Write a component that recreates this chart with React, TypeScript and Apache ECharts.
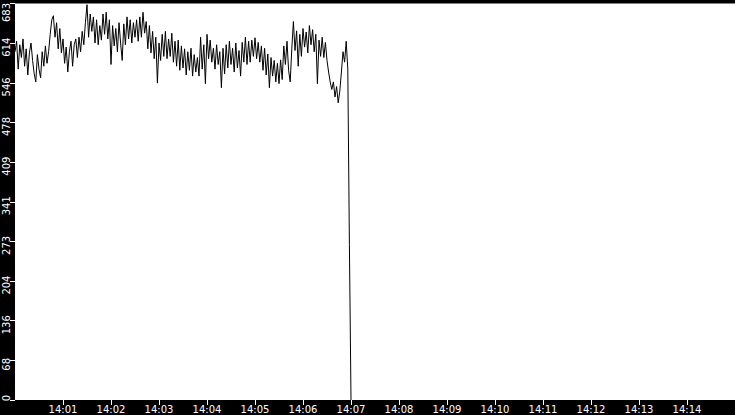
import { useEffect, useRef } from 'react';
import * as echarts from 'echarts';

// tick labels
const xTickLabels = [
  '14:00', '14:01', '14:02', '14:03', '14:04', '14:05', '14:06', '14:07',
  '14:08', '14:09', '14:10', '14:11', '14:12', '14:13', '14:14', '14:15',
];
const yTickLabels = ['0', '68', '136', '204', '273', '341', '409', '478', '546', '614', '683'];

// one reading every 2 s, starting at 14:00:00
const sampleStepSeconds = 2;
const lineValues = [
  // 14:00:00 - 14:00:42
  600, 618, 570, 612, 590, 622, 575, 605, 560, 598, 615, 585, 562, 548, 595, 570, 555, 600, 575, 610, 580, 600,
  // 14:00:44 - 14:01:26
  630, 655, 662, 625, 650, 605, 640, 598, 622, 580, 608, 565, 600, 618, 575, 612, 622, 590, 625, 600, 635, 612,
  // 14:01:28 - 14:02:30
  650, 681, 625, 665, 635, 660, 615, 655, 612, 645, 620, 665, 630, 668, 622, 655, 578, 645, 610, 640, 600, 650,
  615, 585, 648, 612, 660, 622, 655, 615, 650, 625,
  // 14:02:32 - 14:03:44
  655, 618, 660, 625, 668, 632, 652, 605, 645, 598, 635, 588, 625, 546, 615, 585, 630, 592, 635, 588, 622, 592,
  632, 582, 618, 575, 620, 568, 610, 572, 605, 560, 600, 568, 606, 558, 595,
  // 14:03:46 - 14:05:18
  565, 590, 558, 625, 570, 612, 545, 630, 588, 620, 582, 606, 570, 612, 578, 600, 538, 606, 562, 612, 572, 618,
  578, 606, 565, 615, 572, 602, 558, 616, 582, 625, 578, 618, 582, 620, 592, 624, 588, 616, 582, 610, 568, 606,
  560, 596, 538,
  // 14:05:20 - 14:06:56
  590, 558, 585, 548, 580, 545, 586, 552, 610, 578, 618, 568, 548, 605, 652, 602, 636, 575, 630, 592, 640, 608,
  634, 598, 645, 612, 638, 600, 630, 545, 620, 592, 625, 590, 616, 585, 565, 548, 535, 548, 522, 540, 512, 532,
  565, 600, 582, 618, 570,
  // drop at 14:06:58
  268, 0,
];

const yMax = 683;
const yStep = 68.3;

const labelFont = { color: '#fff', fontSize: 10, fontFamily: 'DejaVu Sans' };

export default function App() {
  const chartRef = useRef<HTMLDivElement>(null);

  useEffect(() => {
    document.body.style.margin = '0';
    if (!chartRef.current) return;
    const chart = echarts.init(chartRef.current, null, { renderer: 'svg' });

    const seriesData = lineValues.map((v, i) => [i * sampleStepSeconds, v]);

    chart.setOption({
      animation: false,
      backgroundColor: '#000',
      grid: {
        left: 15,
        right: 0,
        top: 0,
        bottom: 15,
        show: true,
        backgroundColor: '#fff',
        borderWidth: 0,
      },
      xAxis: {
        type: 'value',
        min: 0,
        max: 900,
        interval: 60,
        axisLine: { show: false },
        axisTick: { show: true, length: 5, lineStyle: { color: '#fff', width: 1 } },
        splitLine: { show: false },
        axisLabel: {
          ...labelFont,
          margin: 4,
          showMinLabel: false,
          showMaxLabel: false,
          formatter: (v: number) => xTickLabels[Math.round(v / 60)] ?? '',
        },
      },
      yAxis: {
        type: 'value',
        min: 0,
        max: yMax,
        interval: yStep,
        axisLine: { show: false },
        axisTick: { show: true, length: 5, lineStyle: { color: '#fff', width: 1 } },
        splitLine: { show: false },
        axisLabel: {
          ...labelFont,
          rotate: 90,
          align: 'center',
          verticalAlign: 'middle',
          margin: 9,
          formatter: (v: number) => {
            const i = Math.round(v / yStep);
            const txt = yTickLabels[i] ?? '';
            if (i === 0) return `{bot|${txt}}`;
            if (i === yTickLabels.length - 1) return `{top|${txt}}`;
            return `{mid|${txt}}`;
          },
          rich: {
            mid: { ...labelFont, padding: [0, 8, 0, 0] },
            top: { ...labelFont, padding: [0, 18, 0, 0] },
            bot: { ...labelFont, padding: [0, 0, 0, 4] },
          },
        },
      },
      series: [
        {
          type: 'line',
          data: seriesData,
          showSymbol: false,
          symbol: 'none',
          silent: true,
          lineStyle: { color: '#000', width: 1 },
        },
      ],
    });

    return () => {
      chart.dispose();
    };
  }, []);

  return <div ref={chartRef} style={{ width: 735, height: 415, background: '#000' }} />;
}
